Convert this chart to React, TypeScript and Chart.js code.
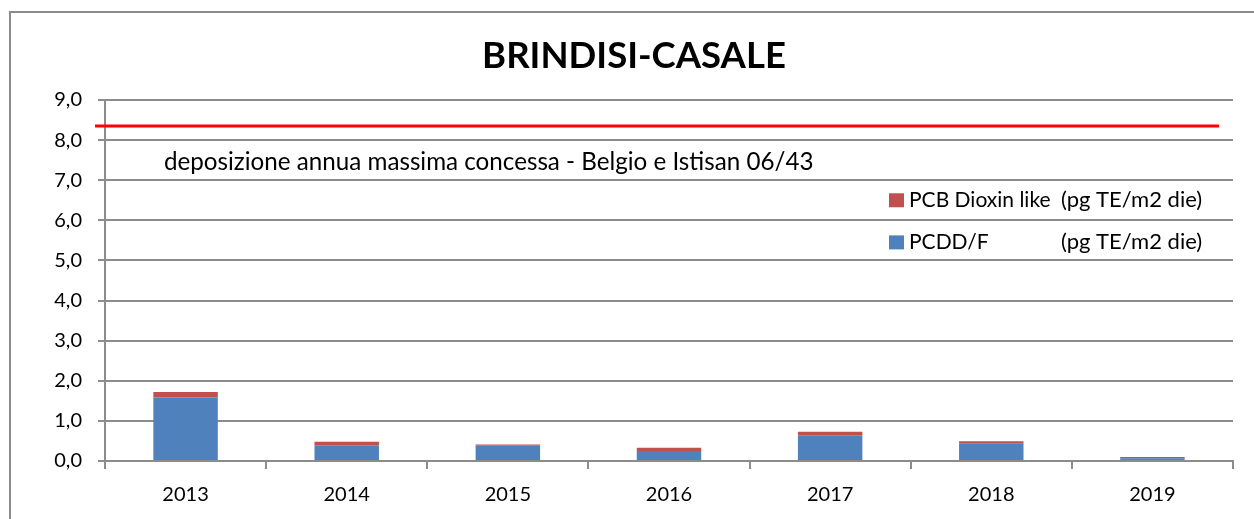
import React, { useEffect, useRef } from "react";
import { Chart, registerables } from "chart.js";

Chart.register(...registerables);

const categories = ["2013", "2014", "2015", "2016", "2017", "2018", "2019"];
const pcddValues = [1.58, 0.39, 0.38, 0.25, 0.64, 0.43, 0.07];
const pcbValues = [0.14, 0.09, 0.03, 0.08, 0.09, 0.06, 0.03];
const seriesNames = ["PCDD/F", "PCB Dioxin like"];
const seriesUnit = "(pg TE/m2 die)";
const limitValue = 8.35;
const limitLabel = "deposizione annua massima concessa - Belgio e Istisan 06/43";
const chartTitle = "BRINDISI-CASALE";
const yTicks = [0, 1, 2, 3, 4, 5, 6, 7, 8, 9];

const FONT = "Lato, 'Open Sans', sans-serif";
const GRID = "#8c8c8c";
const BLUE = "#4F81BD";
const RED = "#C0504D";

const decorPlugin = {
  id: "decor",
  beforeDraw(chart: any) {
    const ctx = chart.ctx;
    ctx.save();
    ctx.fillStyle = "#ffffff";
    ctx.fillRect(0, 0, chart.width, chart.height);
    ctx.strokeStyle = GRID;
    ctx.lineWidth = 2;
    ctx.strokeRect(10, 12, chart.width + 40, chart.height + 40);
    ctx.restore();
  },
  afterDatasetsDraw(chart: any) {
    const ctx = chart.ctx;
    const area = chart.chartArea;
    const y = chart.scales.y;
    ctx.save();
    // title
    ctx.fillStyle = "#000";
    ctx.font = `bold 36.5px ${FONT}`;
    ctx.textAlign = "center";
    ctx.textBaseline = "alphabetic";
    ctx.fillText(chartTitle, 634, 68);
    // limit line
    const ly = y.getPixelForValue(limitValue);
    ctx.strokeStyle = "#ff0000";
    ctx.lineWidth = 3;
    ctx.beginPath();
    ctx.moveTo(area.left - 10, ly);
    ctx.lineTo(area.right - 14, ly);
    ctx.stroke();
    // limit label
    ctx.font = `24.2px ${FONT}`;
    ctx.textAlign = "left";
    ctx.textBaseline = "middle";
    ctx.fillStyle = "#000";
    ctx.fillText(limitLabel, area.left + 59, y.getPixelForValue(7.45));
    // legend
    const legendItems = [
      { name: seriesNames[1], color: RED, value: 6.5 },
      { name: seriesNames[0], color: BLUE, value: 5.45 },
    ];
    legendItems.forEach((it) => {
      const cy = y.getPixelForValue(it.value);
      ctx.fillStyle = it.color;
      ctx.fillRect(889, cy - 7, 15, 14);
      ctx.fillStyle = "#000";
      ctx.font = `21px ${FONT}`;
      ctx.fillText(it.name, 909, cy);
      ctx.font = `22px ${FONT}`;
      ctx.fillText(seriesUnit, 1061, cy);
    });
    ctx.restore();
  },
};

export default function App() {
  const ref = useRef<HTMLCanvasElement | null>(null);
  useEffect(() => {
    if (!ref.current) return;
    const chart = new Chart(ref.current, {
      type: "bar",
      data: {
        labels: categories,
        datasets: [
          { label: seriesNames[0], data: pcddValues, backgroundColor: BLUE, stack: "s" },
          { label: seriesNames[1], data: pcbValues, backgroundColor: RED, stack: "s" },
        ],
      },
      options: {
        animation: false,
        responsive: false,
        devicePixelRatio: 1,
        layout: { padding: { top: 100, right: 21, left: 0, bottom: 0 } },
        datasets: { bar: { barPercentage: 0.4, categoryPercentage: 1 } },
        plugins: { legend: { display: false }, title: { display: false }, tooltip: { enabled: false } },
        scales: {
          x: {
            stacked: true,
            afterFit: (s: any) => { s.height = 58; },
            grid: { display: true, drawOnChartArea: false, drawTicks: true, tickLength: 8, color: GRID, lineWidth: 2, offset: true },
            border: { display: true, color: GRID, width: 2 },
            ticks: { color: "#000", font: { family: FONT, size: 20 }, padding: 14 },
          },
          y: {
            stacked: true,
            min: 0,
            max: 9,
            afterFit: (s: any) => { s.width = 105; },
            afterBuildTicks: (s: any) => { s.ticks = yTicks.map((v) => ({ value: v })); },
            grid: { color: GRID, lineWidth: 2, tickLength: 7, drawTicks: true },
            border: { display: true, color: GRID, width: 2 },
            ticks: {
              color: "#000",
              font: { family: FONT, size: 20 },
              padding: 16,
              callback: (v: any) => Number(v).toFixed(1).replace(".", ","),
            },
          },
        },
      },
      plugins: [decorPlugin],
    });
    return () => chart.destroy();
  }, []);
  return (
    <div style={{ position: "absolute", left: 0, top: 0, width: 1254, height: 519 }}>
      <canvas ref={ref} width={1254} height={519} />
    </div>
  );
}
